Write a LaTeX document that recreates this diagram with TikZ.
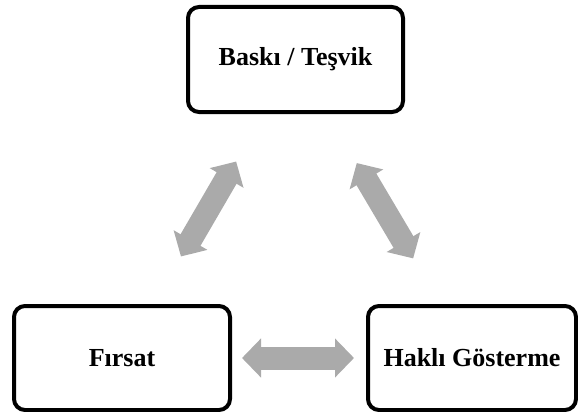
\documentclass[tikz,border=0pt]{standalone}
\usepackage{fontspec}
\setmainfont{Liberation Serif}
\usetikzlibrary{arrows.meta}
\definecolor{linkgray}{RGB}{170,170,170}

\begin{document}
\begin{tikzpicture}[x=1pt,y=-1pt,
    box/.style={draw,line width=4pt,rounded corners=11pt,minimum height=104pt,
      font=\fontsize{26}{30}\selectfont\bfseries},
    link/.style={draw=linkgray,line width=23pt,
      {Triangle[width=38pt,length=19pt]}-{Triangle[width=38pt,length=19pt]}}]
    \useasboundingbox (0,0) rectangle (578,412);

    \node[box,minimum width=215pt,minimum height=105pt] (a) at (295.5,59.5) {Baskı / Teşvik};
    \node[box,minimum width=216pt] (b) at (122,358) {Fırsat};
    \node[box,minimum width=208pt] (c) at (472,358) {Haklı Gösterme};

    \path[link,shorten <=55pt,shorten >=55pt] (a) -- (b);
    \path[link,shorten <=57pt,shorten >=53pt] (a) -- (c);
    \path[link,shorten <=10pt,shorten >=12pt] (b) -- (c);
  \end{tikzpicture}
\end{document}
